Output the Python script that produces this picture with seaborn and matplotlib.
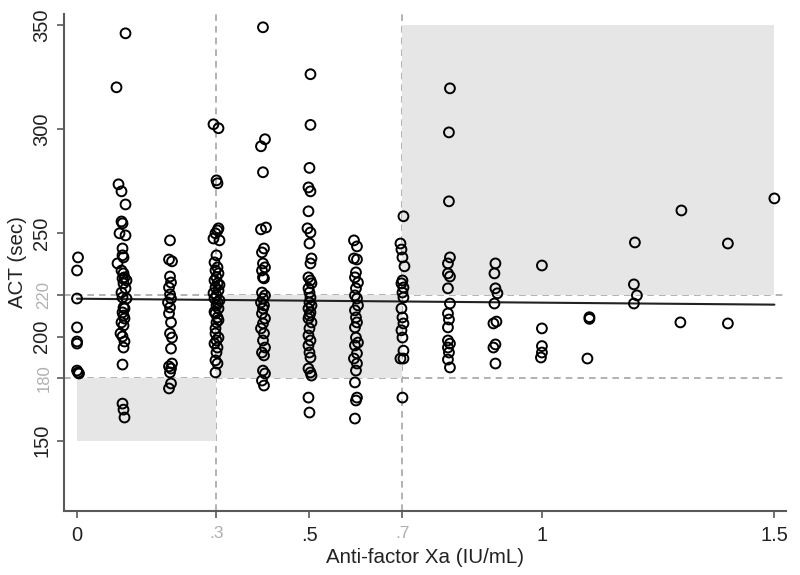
import numpy as np
import pandas as pd
import matplotlib
matplotlib.use("Agg")
import matplotlib.pyplot as plt
import seaborn as sns
from matplotlib.patches import Rectangle

sns.set_theme(style="white")
plt.rcParams['font.family'] = ['Liberation Sans', 'DejaVu Sans']

# ---- data (ACT in sec for each anti-factor Xa level; jitter in pixels as read) ----
act_000 = [238.2, 231.9, 218.4, 204.5, 197.7, 196.7, 183.7, 182.8, 182.3]
jit_000 = [1, 0, 0, 0, 0, 0, 0, 1, 2]

act_010 = [346.1, 320.1, 273.4, 270.0, 263.7, 255.5, 254.6, 249.8, 248.8, 242.5,
           239.2, 238.2, 235.3, 231.9, 230.5, 228.6, 228.1, 227.1, 225.7, 223.3,
           221.3, 218.9, 218.4, 214.1, 213.6, 211.7, 210.2, 208.8, 206.9, 205.4,
           201.6, 200.1, 197.7, 194.8, 186.6, 167.8, 164.9, 161.1]
jit_010 = [2, -7, -5, -2, 2, -2, -1, -4, 2, -1,
           -1, 0, -6, -2, 0, 1, -1, 3, 0, 2,
           -2, -1, 3, 0, 1, -1, 0, 1, -2, 0,
           -3, -1, 1, 0, -1, -1, 0, 1]

act_020 = [246.4, 237.2, 236.3, 229.0, 226.1, 223.7, 220.4, 218.4, 216.5, 214.1,
           211.2, 206.9, 201.6, 199.6, 194.3, 187.1, 185.7, 184.7, 182.8, 177.5,
           175.1]
jit_020 = [0, -1, 2, 0, 1, -1, 0, 1, -2, 0,
           -1, 1, 0, 2, 1, 2, -1, 1, 0, 1, -1]

act_030 = [302.3, 300.4, 275.3, 273.9, 252.2, 251.2, 249.8, 247.3, 246.4, 239.2,
           235.8, 233.4, 231.9, 230.5, 228.6, 227.1, 225.7, 223.7, 222.3, 219.9,
           218.4, 216.5, 215.1, 213.6, 211.2, 209.3, 206.9, 201.6, 199.6, 198.2,
           196.7, 194.8, 192.4, 188.6, 187.1, 182.8, 225.0, 221.0, 217.5, 212.0,
           208.0, 204.0]
jit_030 = [-3, 2, 0, 1, 2, 1, -1, -3, 3, 0,
           -2, 1, -1, 2, 0, -2, 1, -1, 2, 0,
           -2, 1, 0, 2, -1, 1, 0, -1, 2, 0,
           -2, 1, 0, -1, 1, -1, 3, -3, 3, -2,
           2, -1]

act_040 = [349.0, 295.1, 291.7, 279.2, 252.6, 251.7, 242.5, 240.6, 235.3, 233.4,
           231.9, 228.6, 228.1, 221.3, 219.9, 218.4, 216.5, 215.1, 213.6, 211.2,
           208.8, 206.4, 204.0, 201.6, 198.2, 194.8, 192.4, 191.0, 183.7, 182.3,
           178.9, 176.5]
jit_040 = [0, 2, -2, 0, 3, -2, 1, -1, 0, 2,
           -1, 0, 1, -1, 2, 0, -2, 1, 0, -1,
           2, 0, -2, 1, 0, 2, -1, 1, 0, 2, -1, 1]

act_050 = [326.4, 302.0, 281.3, 271.9, 270.0, 260.4, 252.2, 250.2, 244.9, 237.7,
           235.3, 228.6, 227.1, 225.7, 223.3, 221.3, 218.9, 216.5, 215.1, 213.6,
           211.7, 210.2, 208.8, 206.9, 204.0, 200.6, 198.2, 195.8, 192.4, 190.0,
           184.7, 182.8, 181.3, 170.7, 163.5]
jit_050 = [1, 1, 0, -1, 1, -1, -2, 1, 0, 2,
           1, -1, 1, 2, -1, 0, 1, 0, 2, -1,
           1, 0, -1, 2, 0, -1, 1, -1, 0, 1,
           -1, 1, 2, -1, 0]

act_060 = [246.4, 243.5, 237.7, 237.2, 231.0, 228.6, 226.1, 223.3, 219.9, 218.4,
           215.1, 212.7, 209.3, 206.9, 204.5, 199.6, 197.2, 195.8, 192.0, 189.5,
           187.1, 183.7, 178.0, 170.7, 169.3, 160.6]
jit_060 = [-2, 1, -2, 1, 0, -1, 2, 0, -1, 1,
           2, -1, 0, 1, -1, 0, 2, -1, 1, -2,
           1, 0, -1, 1, 0, -1]

act_070 = [258.0, 244.9, 242.0, 238.2, 233.9, 227.1, 225.7, 223.7, 221.3, 218.9,
           213.6, 209.3, 206.4, 203.1, 199.6, 193.3, 189.5, 189.5, 170.7]
jit_070 = [1, -2, -1, 0, 2, 0, -1, 1, 0, 1,
           -1, 0, 1, -1, 0, 1, -2, 1, 0]

act_080 = [319.6, 298.4, 265.2, 238.2, 235.3, 230.5, 229.0, 223.3, 216.0, 211.2,
           208.3, 204.5, 198.2, 196.7, 194.8, 192.4, 189.0, 185.2]
jit_080 = [1, 0, 0, 1, -1, -1, 1, -1, 1, -1,
           0, -1, -1, 1, -1, 0, -1, 1]

act_090 = [235.3, 230.5, 223.3, 220.9, 216.0, 207.3, 206.4, 196.3, 194.8, 187.1]
jit_090 = [0, -1, 0, 2, -1, 1, -2, 0, -2, 0]

act_100 = [234.3, 204.0, 195.5, 192.4, 190.0]
jit_100 = [0, 0, 0, 0, -1]

act_110 = [209.4, 208.6, 189.5]
jit_110 = [1, 1, -1]

act_120 = [245.4, 225.2, 219.9, 216.0]
jit_120 = [0, -1, 2, -1]

act_130 = [260.8, 206.9]
jit_130 = [0, -1]

act_140 = [244.9, 206.4]
jit_140 = [0, 0]

act_150 = [266.6]
jit_150 = [0]

xa_levels = [0.0, 0.1, 0.2, 0.3, 0.4, 0.5, 0.6, 0.7, 0.8, 0.9, 1.0, 1.1, 1.2, 1.3, 1.4, 1.5]
act_cols = [act_000, act_010, act_020, act_030, act_040, act_050, act_060, act_070,
            act_080, act_090, act_100, act_110, act_120, act_130, act_140, act_150]
jit_cols = [jit_000, jit_010, jit_020, jit_030, jit_040, jit_050, jit_060, jit_070,
            jit_080, jit_090, jit_100, jit_110, jit_120, jit_130, jit_140, jit_150]

# fitted linear trend
fit_intercept = 218.3
fit_slope = -1.9

# target ranges (shaded boxes): (x0, x1, y0, y1)
box_x0 = [0.0, 0.3, 0.7]
box_x1 = [0.3, 0.7, 1.5]
box_y0 = [150, 180, 220]
box_y1 = [180, 220, 350]

ref_x = [0.3, 0.7]
ref_y = [180, 220]

ytick_vals = [150, 180, 200, 220, 250, 300, 350]
ytick_text = ["150", "180", "200", "220", "250", "300", "350"]
ytick_gray = [False, True, False, True, False, False, False]
xtick_vals = [0, 0.3, 0.5, 0.7, 1.0, 1.5]
xtick_text = ["0", ".3", ".5", ".7", "1", "1.5"]
xtick_gray = [False, True, False, True, False, False]

PX = 1.0 / 465.0  # data units per pixel on x
rows = []
for lvl, ys, js in zip(xa_levels, act_cols, jit_cols):
    for y, j in zip(ys, js):
        rows.append((lvl, lvl + j * PX, y))
df = pd.DataFrame(rows, columns=["level", "xa", "act"])

fit_df = pd.DataFrame({"xa": xa_levels})
fit_df["act"] = fit_intercept + fit_slope * fit_df["xa"]

# ---- figure ----
fig = plt.figure(figsize=(8, 5.75), dpi=100)
ax = fig.add_axes([0.08, 0.111, 0.9025, 0.865])
ax.set_xlim(-0.028, 1.525)
ax.set_ylim(116, 355.5)

dash_col = "#a6a6a6"
for xv in ref_x:
    ax.axvline(xv, color=dash_col, lw=1.2, ls=(0, (4, 3)), zorder=0)
for yv in ref_y:
    ax.axhline(yv, color=dash_col, lw=1.2, ls=(0, (4, 3)), zorder=0)

for x0, x1, y0, y1 in zip(box_x0, box_x1, box_y0, box_y1):
    ax.add_patch(Rectangle((x0, y0), x1 - x0, y1 - y0, facecolor="#e6e6e6",
                           edgecolor="none", zorder=1))

sns.lineplot(data=fit_df, x="xa", y="act", ax=ax, color="#222222", lw=1.5,
             zorder=2, estimator=None)

sns.scatterplot(data=df, x="xa", y="act", ax=ax, marker="o", s=50,
                facecolors="none", edgecolor="black", linewidth=1.4, zorder=3)

# axes styling
for side in ["top", "right"]:
    ax.spines[side].set_visible(False)
for side in ["left", "bottom"]:
    ax.spines[side].set_color("#5a5a5a")
    ax.spines[side].set_linewidth(1.5)

ax.set_yticks(ytick_vals)
ax.set_yticklabels(ytick_text, rotation=90, va="center")
ax.set_xticks(xtick_vals)
ax.set_xticklabels(xtick_text)
ax.tick_params(axis="both", which="both", direction="out", length=5, width=1.2,
               color="#5a5a5a", left=True, bottom=True)
ax.tick_params(axis="y", labelsize=14.5, pad=4)
ax.tick_params(axis="x", labelsize=14.5, pad=6)
for lab, g in zip(ax.get_yticklabels(), ytick_gray):
    if g:
        lab.set_color("#b0b0b0")
        lab.set_fontsize(12)
    else:
        lab.set_color("#222222")
for lab, g in zip(ax.get_xticklabels(), xtick_gray):
    if g:
        lab.set_color("#b0b0b0")
        lab.set_fontsize(12.5)
    else:
        lab.set_color("#222222")
for t, g in zip(ax.yaxis.get_major_ticks(), ytick_gray):
    if g:
        t.tick1line.set_color("#b0b0b0")
for t, g in zip(ax.xaxis.get_major_ticks(), xtick_gray):
    if g:
        t.tick1line.set_color("#b0b0b0")

ax.set_xlabel("Anti-factor Xa (IU/mL)", fontsize=14.8, color="#222222", labelpad=2)
ax.set_ylabel("ACT (sec)", fontsize=14.8, color="#222222", labelpad=4)
ax.grid(False)

fig.savefig("out.png", dpi=100)
